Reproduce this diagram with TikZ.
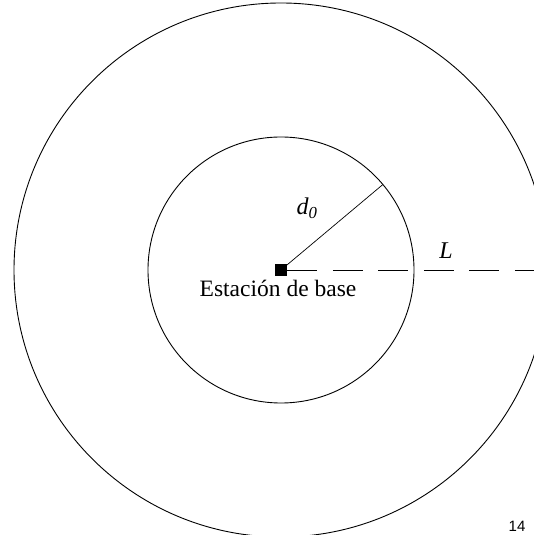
\documentclass[tikz,border=0pt]{standalone}
\usepackage{fontspec}
\setmainfont{Liberation Serif}
\newfontfamily\pagefont{Liberation Sans}
\usetikzlibrary{positioning,calc}

\begin{document}
\begin{tikzpicture}[x=1pt, y=1pt,
  ring/.style={draw, line width=0.9pt},
  station/.style={fill=black, minimum size=12.5pt, inner sep=0pt},
  lbl/.style={inner sep=0pt, font=\fontsize{24}{28}\selectfont\itshape},
  reachline/.style={line width=0.9pt, dash pattern=on 30pt off 15.5pt},
]
\useasboundingbox (0,0) rectangle (534,535);
\clip (0,0) rectangle (534,535);

\node[station] (bs) at (281,265) {};
\draw[ring] (bs.center) circle[radius=133];
\draw[ring] (bs.center) circle[radius=267];

% radius of the inner cell and the outer range
\coordinate (rim) at ($(bs.center)+(40:133)$);
\coordinate (edge) at (534,265);
\draw[line width=0.7pt] (bs.center) -- (rim);
\draw[reachline] (bs.east) -- (edge);

\node[lbl] (d0) at (307,327) {d\textsubscript{0}};
\node[lbl] (len) at (446,284) {L};
\node[anchor=base, inner sep=0pt, font=\fontsize{23.5}{27}\selectfont]
  (name) at ($(bs.center)+(-3,-27)$) {Estación de base};
\node[inner sep=0pt, font=\pagefont\fontsize{15}{17}\selectfont] (page) at (517,9) {14};
\end{tikzpicture}
\end{document}
